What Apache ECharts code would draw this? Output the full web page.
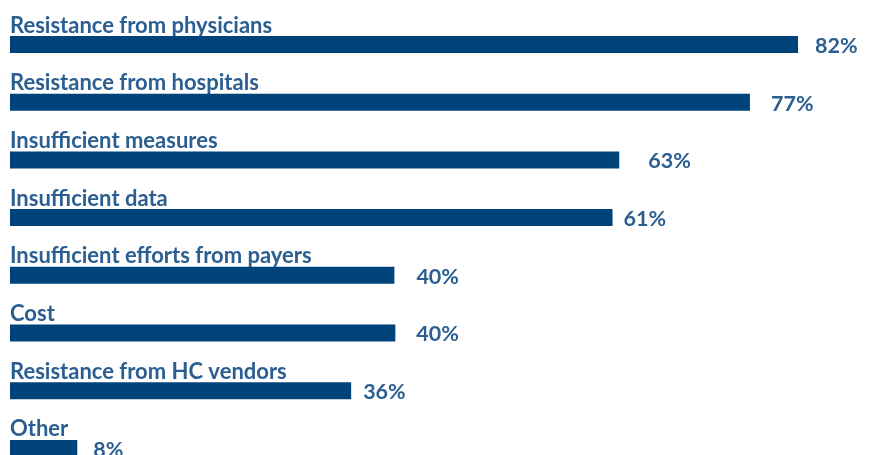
<!DOCTYPE html>
<html>
<head>
<meta charset="utf-8">
<script src="https://cdn.jsdelivr.net/npm/echarts@6/dist/echarts.min.js"></script>
<style>html,body{margin:0;padding:0;background:#fff}#c{width:869px;height:455px}</style>
</head>
<body>
<div id="c"></div>
<script>
var categories = ['Resistance from physicians','Resistance from hospitals','Insufficient measures','Insufficient data','Insufficient efforts from payers','Cost','Resistance from HC vendors','Other'];
var values = [82, 77, 63.4, 62.7, 40, 40.1, 35.5, 7.0];
var valueLabels = ['82%','77%','63%','61%','40%','40%','36%','8%'];
var labelGaps = [17, 21, 29, 11, 22, 21, 12, 16];

var BAR = '#00437a', TXT = '#2b5e91', FONT = 'Lato';
var chart = echarts.init(document.getElementById('c'), null, {renderer:'canvas'});
chart.setOption({
  animation: false,
  grid: {left: 10, top: 44.5, width: 788, height: 403.9},
  xAxis: {type:'value', min:0, max:82, show:false},
  yAxis: {type:'category', data: categories, inverse:true, boundaryGap:false,
    axisLine:{show:false}, axisTick:{show:false}, splitLine:{show:false},
    axisLabel:{show:true, inside:true, margin:0, align:'left', verticalAlign:'bottom',
      padding:[0,0,8,0], color:TXT, fontFamily:FONT, fontWeight:'bold', fontSize:22}
  },
  series: [{
    type:'bar', barWidth:17,
    itemStyle:{color:BAR},
    data: values.map(function(v,i){return {value:v, label:{distance:labelGaps[i]}};}),
    label:{show:true, position:'right', color:TXT, fontFamily:FONT, fontWeight:'bold', fontSize:21.5,
      offset:[0,1.5],
      formatter:function(p){return valueLabels[p.dataIndex];}}
  }]
});
</script>
</body>
</html>
